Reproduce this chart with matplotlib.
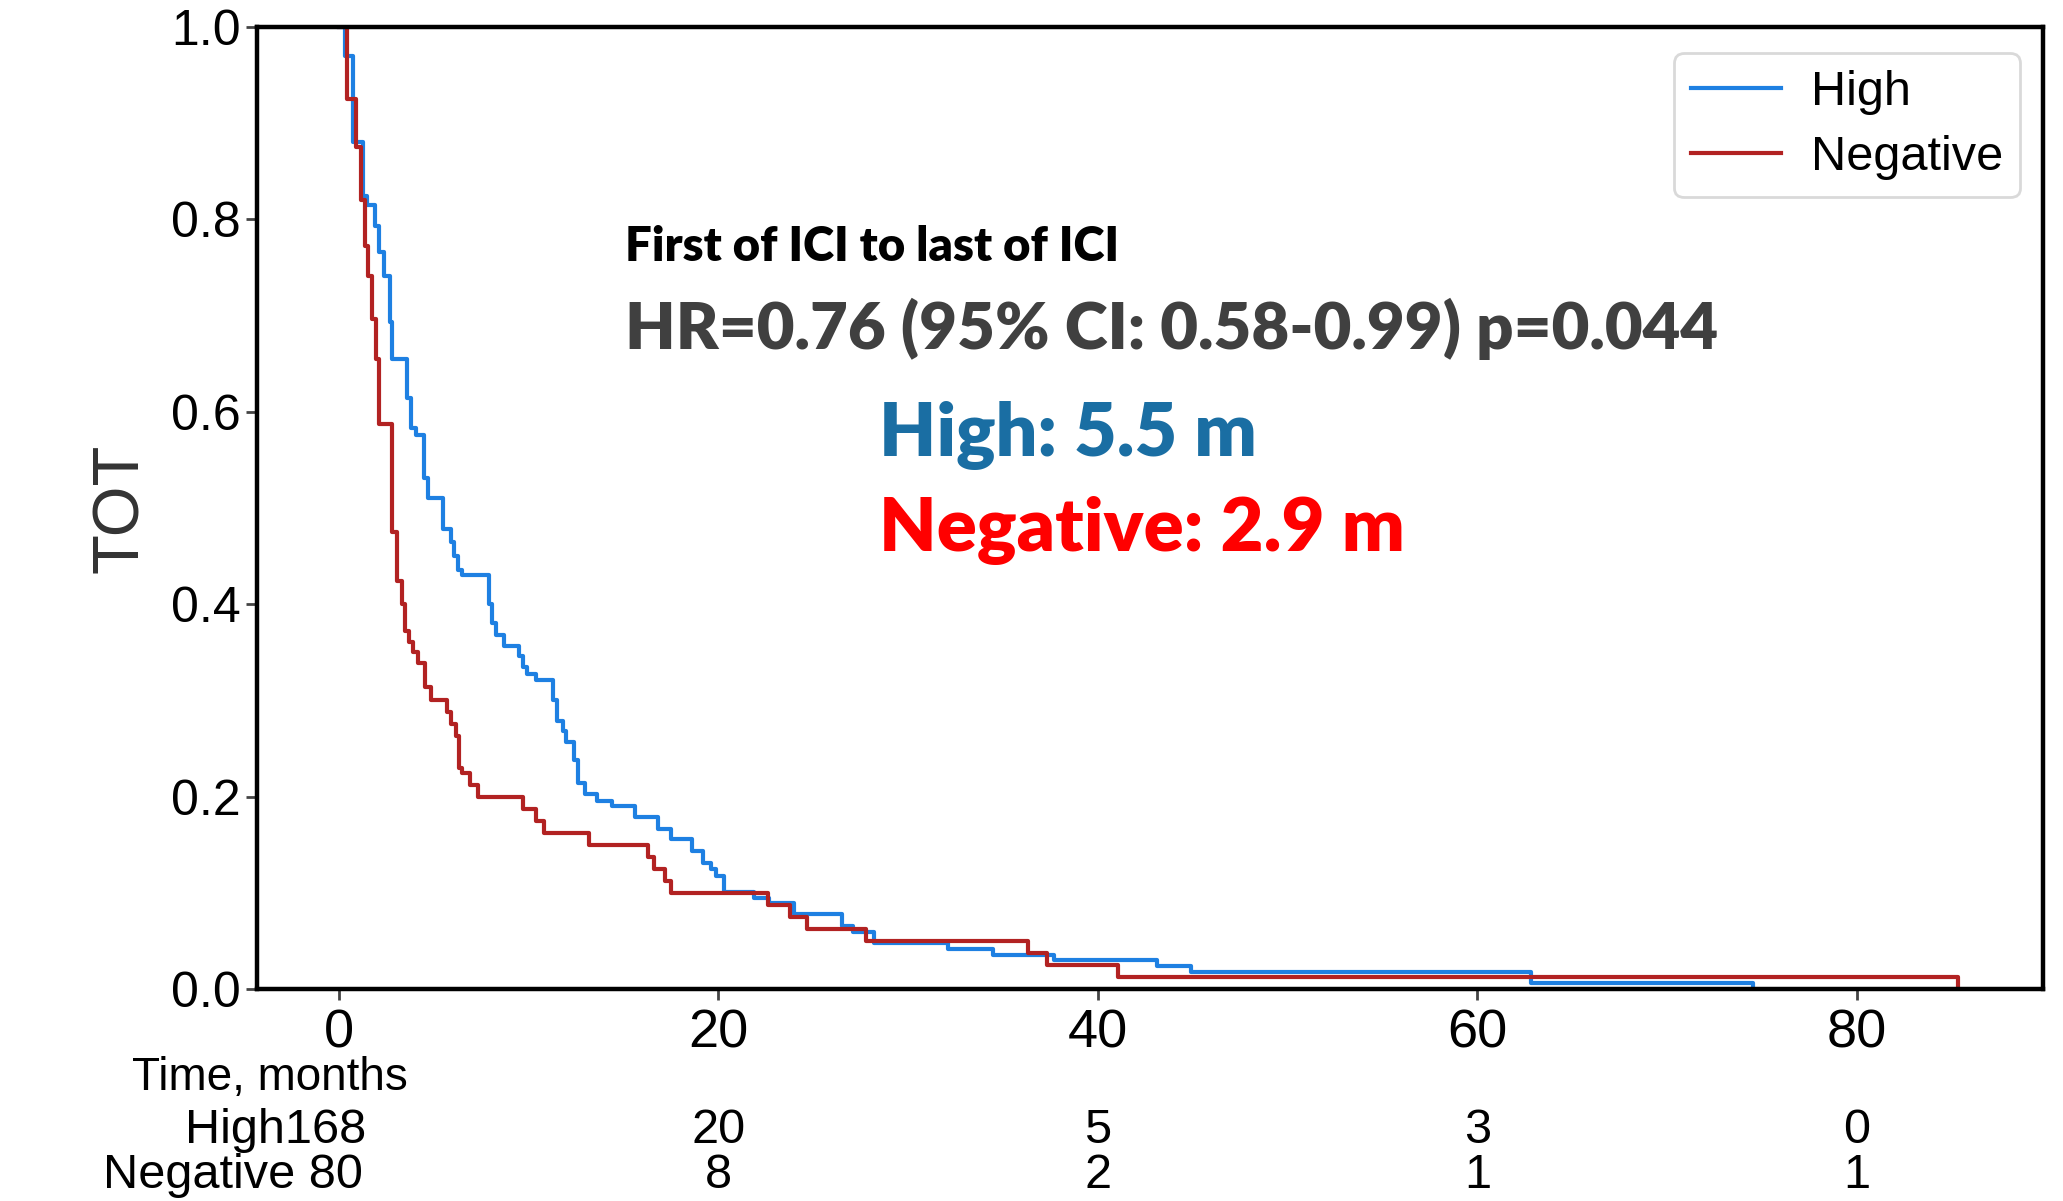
"""
Time on treatment (TOT) Kaplan-Meier curves, High vs Negative
"""

import matplotlib
matplotlib.use('Agg')
import matplotlib.pyplot as plt

#---------------------------------------------------------------------------------------------------
# Data
#---------------------------------------------------------------------------------------------------

# High group: step times (months) and survival after each step
high_t = [0, 0.35, 0.75, 1.3, 1.5, 1.9, 2.1, 2.4, 2.7, 2.8, 3.6, 3.8, 4.1, 4.5, 4.7, 5.5, 5.9,
          6.1, 6.3, 6.5, 7.9, 8.1, 8.3, 8.7, 9.5, 9.7, 9.9, 10.4, 11.3, 11.5, 11.8, 12.0, 12.4,
          12.6, 13.0, 13.6, 14.4, 15.6, 16.8, 17.5, 18.6, 19.2, 19.6, 19.9, 20.3, 21.9, 22.7,
          24.0, 26.5, 27.1, 28.2, 32.1, 34.5, 37.7, 43.1, 44.9, 62.8, 74.5]
high_s = [1.0, 0.97, 0.88, 0.824, 0.815, 0.793, 0.766, 0.741, 0.693, 0.655, 0.614, 0.583, 0.576,
          0.531, 0.51, 0.478, 0.465, 0.45, 0.436, 0.43, 0.40, 0.38, 0.368, 0.357, 0.346, 0.335,
          0.327, 0.321, 0.30, 0.279, 0.268, 0.257, 0.238, 0.214, 0.203, 0.195, 0.19, 0.179, 0.166,
          0.156, 0.143, 0.131, 0.125, 0.117, 0.101, 0.095, 0.089, 0.078, 0.065, 0.0595, 0.0476,
          0.0417, 0.0357, 0.0298, 0.0238, 0.0179, 0.006, 0.0]

# Negative group
neg_t = [0, 0.45, 0.9, 1.2, 1.37, 1.57, 1.77, 1.95, 2.1, 2.8, 3.1, 3.35, 3.47, 3.7, 3.93, 4.17,
         4.57, 4.87, 5.69, 5.93, 6.16, 6.32, 6.5, 6.93, 7.33, 9.72, 10.4, 10.8, 13.2, 16.3, 16.6,
         17.2, 17.5, 22.6, 23.8, 24.7, 27.8, 36.3, 37.3, 41.05, 85.3]
neg_s = [1.0, 0.925, 0.875, 0.82, 0.772, 0.741, 0.697, 0.655, 0.5875, 0.475, 0.424, 0.40, 0.372,
         0.361, 0.35, 0.339, 0.314, 0.30, 0.2875, 0.275, 0.2625, 0.23, 0.225, 0.2125, 0.20,
         0.1875, 0.175, 0.1625, 0.15, 0.1375, 0.125, 0.1125, 0.10, 0.0875, 0.075, 0.0625, 0.05,
         0.0375, 0.025, 0.0125, 0.0]

# At-risk table
risk_times = [0, 20, 40, 60, 80]
risk_high = [168, 20, 5, 3, 0]
risk_neg = [80, 8, 2, 1, 1]

x_ticks = [0, 20, 40, 60, 80]
y_ticks = [0.0, 0.2, 0.4, 0.6, 0.8, 1.0]

#---------------------------------------------------------------------------------------------------
# Plot
#---------------------------------------------------------------------------------------------------

sans = 'Liberation Sans'
calib = 'Lato'

fig = plt.figure(figsize=(20.63, 12.01), dpi=100)
ax = fig.add_axes([0.1246, 0.1765, 0.8657, 0.801])

ax.step(high_t, high_s, where='post', color='#1e80e2', lw=3, label='High')
ax.step(neg_t, neg_s, where='post', color='#b22222', lw=3, label='Negative')

ax.set_xlim(-4.3, 89.8)
ax.set_ylim(0, 1.0)
for sp in ax.spines.values():
    sp.set_linewidth(3.2)

ax.set_yticks(y_ticks)
ax.set_yticklabels([f'{v:.1f}' for v in y_ticks], family=sans, size=36)
ax.set_xticks(x_ticks)
ax.set_xticklabels([str(v) for v in x_ticks], family=sans, size=39)
ax.tick_params(axis='both', length=8, width=2, color='#444444')
ax.tick_params(axis='x', pad=6)
ax.tick_params(axis='y', pad=4)
ax.set_ylabel('TOT', family=sans, size=47, color='#333333', labelpad=14)

leg = ax.legend(loc='upper right', prop={'family': sans, 'size': 35},
                handlelength=1.85, handletextpad=0.6, borderpad=0.35, labelspacing=0.42,
                fancybox=True, borderaxespad=0, bbox_to_anchor=(0.987, 0.973))
leg.get_frame().set_edgecolor('#d0d0d0')
leg.get_frame().set_linewidth(2)

# Annotations
ax.text(0.206, 0.771, 'First of ICI to last of ICI', transform=ax.transAxes,
        family=calib, weight='heavy', size=34, color='black', va='center')
ax.text(0.206, 0.686, 'HR=0.76 (95% CI: 0.58-0.99) p=0.044', transform=ax.transAxes,
        family=calib, weight='heavy', size=47, color='#404040', va='center')
ax.text(0.348, 0.575, 'High: 5.5 m', transform=ax.transAxes,
        family=calib, weight='heavy', size=53, color='#1a6ea3', va='center')
ax.text(0.348, 0.477, 'Negative: 2.9 m', transform=ax.transAxes,
        family=calib, weight='heavy', size=53.5, color='#ff0000', va='center')

# At-risk counts
xt = ax.get_xaxis_transform()
ax.text(-3.6, -0.093, 'Time, months', transform=xt, family=sans, size=33,
        ha='center', va='center')
for t, h, n in zip(risk_times, risk_high, risk_neg):
    if t == 0:
        ax.text(t + 1.45, -0.147, f'High{h}', transform=xt, family=sans,
                size=35, ha='right', va='center')
        ax.text(t + 1.25, -0.194, f'Negative {n}', transform=xt, family=sans,
                size=35, ha='right', va='center')
    else:
        ax.text(t, -0.147, str(h), transform=xt, family=sans,
                size=35, ha='center', va='center')
        ax.text(t, -0.194, str(n), transform=xt, family=sans,
                size=35, ha='center', va='center')

plt.savefig('out.png', dpi=100)
plt.close()
